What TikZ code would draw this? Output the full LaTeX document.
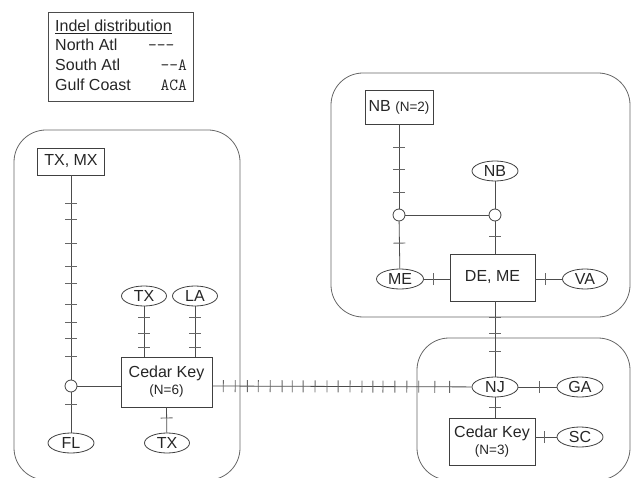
\documentclass[tikz,border=0pt]{standalone}
\usepackage{fontspec}
\setmainfont{Liberation Sans}
\usetikzlibrary{shapes}

\newcommand{\nsmall}{\fontsize{13.5}{16}\selectfont}

\begin{document}
\begin{tikzpicture}[x=1pt, y=-1pt, font=\fontsize{16}{16}\selectfont, text=black!85,
    box/.style={draw=black!75, line width=0.8pt, rectangle, inner sep=0pt, align=center},
    loc/.style={draw=black!75, line width=0.8pt, ellipse, minimum width=46pt, minimum height=20pt, inner sep=0pt},
    split/.style={draw=black!75, line width=0.8pt, circle, minimum size=12pt, inner sep=0pt},
    link/.style={draw=black!70, line width=0.8pt},
    region/.style={draw=black!60, line width=0.8pt, rounded corners=32pt},
    tk/.style={sloped, inner sep=0pt, text=black!60},
    legtxt/.style={anchor=base west, inner sep=0pt},
    legcode/.style={anchor=base east, inner sep=0pt, font=\fontsize{17}{17}\selectfont\ttfamily},
]
    \useasboundingbox (0,0) rectangle (631,478);

    % legend
    \draw[draw=black!70, line width=0.8pt] (48,12) rectangle (193,101);
    \node[legtxt] (legtitle) at (55,31.5) {\underline{Indel distribution}};
    \node[legtxt] (north) at (55,50.5) {North Atl};
    \node[legtxt] (south) at (55,70.5) {South Atl};
    \node[legtxt] (gulf) at (55,90.5) {Gulf Coast};
    \node[legcode, anchor=base west] (northcode) at (148,50.5) {-{}-{}-};
    \node[legcode] (southcode) at (187,70.5) {-{}-A};
    \node[legcode] (gulfcode) at (187,90.5) {ACA};

    % regions
    \draw[region] (14,130) rectangle (240,480);
    \draw[region] (331,73) rectangle (630,317);
    \draw[region] (417,338) rectangle (630,480);

    % Gulf Coast
    \node[box, minimum width=67pt, minimum height=27pt] (txmx) at (71,161.5) {TX, MX};
    \node[split] (split1) at (71,386) {};
    \node[loc] (fl) at (71,443) {FL};
    \node[box, minimum width=91pt, minimum height=50pt] (ck6) at (166.5,382) {Cedar Key\\[1pt]{\nsmall (N=6)}};
    \node[loc, minimum width=45pt] (tx1) at (144,296) {TX};
    \node[loc, minimum width=45pt] (la) at (195,296) {LA};
    \node[loc, minimum width=45pt] (tx2) at (167,443) {TX};

    % South Atl
    \node[loc] (nj) at (495,387) {NJ};
    \node[loc] (ga) at (580,387) {GA};
    \node[box, minimum width=86pt, minimum height=47pt] (ck3) at (492,441.5) {Cedar Key\\[1pt]{\nsmall (N=3)}};
    \node[loc] (sc) at (580,437) {SC};

    % North Atl
    \node[box, minimum width=85pt, minimum height=47pt] (deme) at (492.5,277.5) {DE, ME};
    \node[loc, minimum width=45pt] (va) at (585,279) {VA};
    \node[loc, minimum width=47pt] (me) at (400,279) {ME};
    \node[loc] (nb) at (495,171) {NB};
    \node[split] (split3) at (495,215) {};
    \node[split] (split2) at (399,215) {};
    \node[box, minimum width=68pt, minimum height=34pt] (nb2) at (399,107) {NB {\nsmall (N=2)}};

    % links
    \draw[link] (txmx) -- (split1)
        foreach \p in {0.137,0.215,0.332,0.444,0.527,0.634,0.722,0.8,0.888} {node[tk,pos=\p] {\rule{0.9pt}{12pt}}};
    \draw[link] (split1) -- (fl) node[tk,pos=0.29] {\rule{0.9pt}{12pt}};
    \draw[link] (split1) -- (split1 -| ck6.west);
    \draw[link] (tx1) -- (tx1 |- ck6.north)
        foreach \p in {0.216,0.53,0.82} {node[tk,pos=\p] {\rule{0.9pt}{12pt}}};
    \draw[link] (la) -- (la |- ck6.north)
        foreach \p in {0.216,0.53,0.82} {node[tk,pos=\p] {\rule{0.9pt}{12pt}}};
    \draw[link] (ck6.south) -- (tx2) node[tk,pos=0.42] {\rule{0.9pt}{12pt}};
    \draw[link] (split1 -| ck6.east) -- (nj)
        foreach \p in {0.042,0.088,0.135,0.177,0.223,0.269,0.308,0.35,0.396,0.442,0.485,0.531,0.577,0.619,0.658,0.704,0.75,0.796,0.858,0.915} {node[tk,pos=\p] {\rule{0.9pt}{12pt}}};
    \draw[link] (nj) -- (ga) node[tk,pos=0.56] {\rule{0.9pt}{12pt}};
    \draw[link] (nj) -- (nj |- ck3.north) node[tk,pos=0.48] {\rule{0.9pt}{12pt}};
    \draw[link] (ck3.east |- sc) -- (sc) node[tk,pos=0.45] {\rule{0.9pt}{12pt}};
    \draw[link] (nj |- deme.south) -- (nj)
        foreach \p in {0.21,0.42,0.66} {node[tk,pos=\p] {\rule{0.9pt}{12pt}}};
    \draw[link] (deme.east |- va) -- (va) node[tk,pos=0.39] {\rule{0.9pt}{12pt}};
    \draw[link] (me) -- (me -| deme.west) node[tk,pos=0.37] {\rule{0.9pt}{12pt}};
    \draw[link] (nb) -- (split3);
    \draw[link] (split3) -- (split3 |- deme.north) node[tk,pos=0.48] {\rule{0.9pt}{12pt}};
    \draw[link] (split2) -- (split3);
    \draw[link] (nb2) -- (split2)
        foreach \p in {0.27,0.54,0.81} {node[tk,pos=\p] {\rule{0.9pt}{12pt}}};
    \draw[link] (split2) -- (me) node[tk,pos=0.46] {\rule{0.9pt}{12pt}};
\end{tikzpicture}
\end{document}
